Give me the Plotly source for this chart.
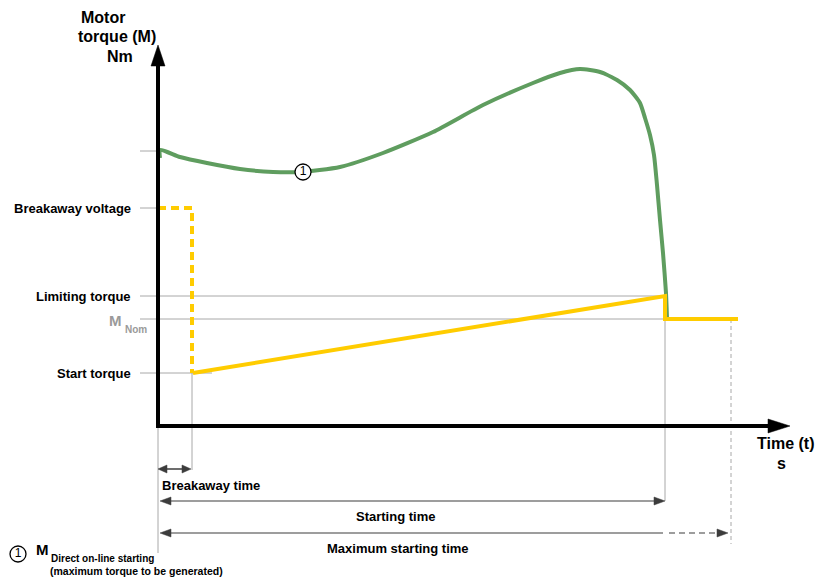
import plotly.graph_objects as go

# ---- values (time units, torque units) ----
t_breakaway = 34
t_start = 507
t_max = 573
t_end = 580
M_breakaway = 218
M_limit = 130
M_nom = 107
M_start = 53
M_dol0 = 275

# Direct on-line starting torque curve (green)
dol_t = [2, 2, 22, 49, 82, 115, 142, 182, 225, 275, 325, 375, 402, 422, 442, 459, 472, 482, 487, 492, 496, 499, 502, 505, 508, 509]
dol_M = [268, 276, 269, 263, 257, 254, 254, 259, 273, 294, 321, 343, 353, 357, 354, 346, 336, 323, 308, 291, 271, 241, 206, 173, 133, 108]

# Soft starter torque (yellow)
ramp_t = [35, t_start, t_start, t_end]
ramp_M = [M_start, M_limit, M_nom, M_nom]
break_t = [0, t_breakaway, t_breakaway]
break_M = [M_breakaway, M_breakaway, M_start]

y_labels = ["Breakaway voltage", "Limiting torque", "Start torque"]
y_label_vals = [M_breakaway, M_limit, M_start]

GRAY = "#a8a8a8"
DARK = "#3c3c3c"
GREEN = "#5f9d5f"
YELLOW = "#ffcc00"
FONT = "Liberation Sans, Arial, sans-serif"

fig = go.Figure()

shapes = []


def line(x0, y0, x1, y1, color=GRAY, width=1, dash="solid"):
    shapes.append(dict(type="line", xref="x", yref="y", x0=x0, y0=y0, x1=x1, y1=y1,
                       line=dict(color=color, width=width, dash=dash), layer="below"))


def tri(tx, ty, dx, dy, length, half, color):
    # tip at (tx,ty), pointing in direction (dx,dy)
    bx, by = tx - dx * length, ty - dy * length
    px, py = -dy, dx
    p1 = (bx + px * half, by + py * half)
    p2 = (bx - px * half, by - py * half)
    shapes.append(dict(type="path", xref="x", yref="y",
                       path=f"M {tx},{ty} L {p1[0]},{p1[1]} L {p2[0]},{p2[1]} Z",
                       fillcolor=color, line=dict(color=color, width=0.5), layer="above"))


# reference gray lines
line(-18, M_dol0, 0, M_dol0)
line(-18, M_breakaway, 0, M_breakaway)
line(-18, M_limit, t_start, M_limit)
line(-18, M_nom, t_end, M_nom)
line(-18, M_start, 54, M_start)
line(0, 0, 0, -127)
line(t_breakaway, M_start, t_breakaway, -44)
line(t_start, M_limit, t_start, -75)
line(t_max, M_nom, t_max, -118, dash="4px,3px")

# axes
shapes.append(dict(type="line", xref="x", yref="y", x0=0, y0=-2, x1=0, y1=360,
                   line=dict(color="black", width=4)))
shapes.append(dict(type="line", xref="x", yref="y", x0=-2, y0=0, x1=612, y1=0,
                   line=dict(color="black", width=4)))
tri(0, 381, 0, 1, 21, 7, "black")
tri(632, 0, 1, 0, 22, 7, "black")

# dimension arrows
ya, ys, ym = -43, -75, -107
line(4, ya, t_breakaway - 4, ya, DARK, 1.5)
tri(0, ya, -1, 0, 9, 4, DARK)
tri(t_breakaway - 1, ya, 1, 0, 9, 4, DARK)
line(6, ys, t_start - 6, ys, DARK, 1.2)
tri(2, ys, -1, 0, 11, 4, DARK)
tri(t_start, ys, 1, 0, 11, 4, DARK)
line(6, ym, t_start - 2, ym, DARK, 1.2)
line(t_start + 4, ym, t_max - 8, ym, DARK, 1.2, dash="6px,4px")
tri(2, ym, -1, 0, 11, 4, DARK)
tri(t_max - 3, ym, 1, 0, 11, 4, DARK)

# traces
fig.add_trace(go.Scatter(x=dol_t, y=dol_M, mode="lines",
                         line=dict(color=GREEN, width=4, shape="spline", smoothing=0.6),
                         hoverinfo="skip"))
fig.add_trace(go.Scatter(x=break_t, y=break_M, mode="lines",
                         line=dict(color=YELLOW, width=4, dash="8px,5px"), hoverinfo="skip"))
fig.add_trace(go.Scatter(x=ramp_t, y=ramp_M, mode="lines",
                         line=dict(color=YELLOW, width=4), hoverinfo="skip"))
# circled 1 markers
fig.add_trace(go.Scatter(x=[145, -140], y=[254, -128], mode="markers+text", text=["1", "1"],
                         textposition="middle center",
                         textfont=dict(family=FONT, size=12, color="black"),
                         marker=dict(size=16, color="white", line=dict(color="black", width=1.3)),
                         hoverinfo="skip", cliponaxis=False))

annotations = []


def text(x, y, s, size=13, color="black", xanchor="center", bold=True):
    annotations.append(dict(x=x, y=y, xref="x", yref="y", text=f"<b>{s}</b>" if bold else s,
                            showarrow=False, xanchor=xanchor, yanchor="middle",
                            font=dict(family=FONT, size=size, color=color)))


text(-55, 409, "Motor", 16)
text(-41, 390, "torque (M)", 16)
text(-38, 370, "Nm", 16)
for lab, v in zip(y_labels, y_label_vals):
    text(-25, v, lab, 13, xanchor="right")
text(-34, 106, "M", 15, "#9a9a9a", xanchor="right")
text(-35, 97, "Nom", 10, "#9a9a9a", xanchor="left")
text(627, -17, "Time (t)", 16)
text(623, -37, "s", 16)
text(2, -59, "Breakaway time", 13, xanchor="left")
text(237, -90, "Starting time", 13)
text(240, -122, "Maximum starting time", 13)
text(-124, -123, "M", 15, xanchor="left")
text(-109, -132, "Direct on-line starting", 10, xanchor="left")
text(-110, -145, "(maximum torque to be generated)", 10.5, xanchor="left")

# page body has an 8px margin: shift ranges so marks land where the reference has them
fig.update_layout(
    width=825, height=578,
    margin=dict(l=0, r=0, t=0, b=0),
    paper_bgcolor="white", plot_bgcolor="white",
    showlegend=False,
    xaxis=dict(range=[-150, 675], visible=False, fixedrange=True),
    yaxis=dict(range=[-160, 418], visible=False, fixedrange=True),
    shapes=shapes, annotations=annotations,
)

fig.write_html("out.html")
